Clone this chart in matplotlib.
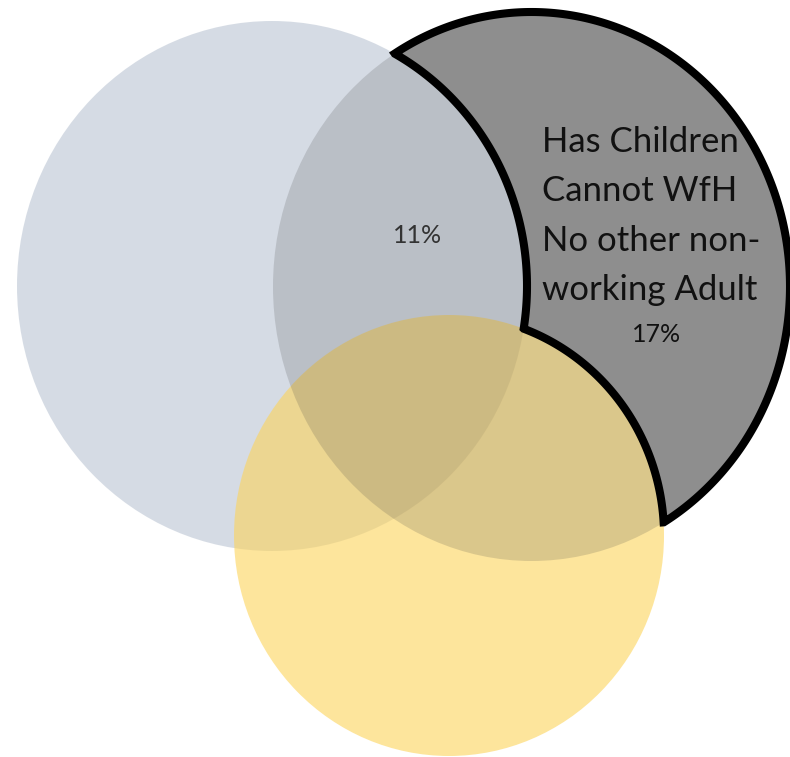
import numpy as np
import matplotlib
matplotlib.use("Agg")
from matplotlib import pyplot as plt
from matplotlib.patches import Ellipse, Polygon

plt.rcParams['font.family'] = ['Lato', 'DejaVu Sans']

# region labels and shares
group_lines = ["Has Children", "Cannot WfH", "No other non-", "working Adult"]
group_share = "17%"
overlap_share = "11%"

# ovals (pixel space): centre x, centre y, half width, half height
left_oval = (272, 286, 255, 265)
right_oval = (531.5, 286.5, 258.5, 274.5)
yellow_oval = (449, 535.5, 215, 220.5)


def boundary(e, n=4000):
    t = np.linspace(0, 2*np.pi, n, endpoint=False)
    return np.column_stack([e[0] + e[2]*np.cos(t), e[1] + e[3]*np.sin(t)])


def inside(e, p):
    return ((p[:, 0]-e[0])/e[2])**2 + ((p[:, 1]-e[1])/e[3])**2 < 1


def run(pts, mask):
    # the one contiguous stretch of the outline where mask holds
    i0 = np.where(mask & ~np.roll(mask, 1))[0][0]
    pts = np.roll(pts, -i0, axis=0)
    return pts[:mask.sum()]


def outline():
    pr = boundary(right_oval)
    a = run(pr, ~inside(left_oval, pr) & ~inside(yellow_oval, pr))
    py = boundary(yellow_oval)
    b = run(py, inside(right_oval, py) & ~inside(left_oval, py))
    pl = boundary(left_oval)
    c = run(pl, inside(right_oval, pl) & ~inside(yellow_oval, pl))
    chain = [a]
    rest = [b, c]
    while rest:
        end = chain[-1][-1]
        best = None
        for k, arc in enumerate(rest):
            for flip in (False, True):
                seg = arc[::-1] if flip else arc
                d = np.hypot(*(seg[0] - end))
                if best is None or d < best[0]:
                    best = (d, k, seg)
        chain.append(best[2])
        rest.pop(best[1])
    return np.vstack(chain)


fig = plt.figure(figsize=(7.9, 7.57), dpi=100)
ax = fig.add_axes([0, 0, 1, 1])
ax.set_xlim(0, 790)
ax.set_ylim(757, 0)
ax.axis('off')

for e, col, a, z in [(left_oval, '#ADB9CA', 0.5, 1),
                     (yellow_oval, '#FDD45A', 0.6, 2),
                     (right_oval, '#404040', 0.18, 3)]:
    ax.add_patch(Ellipse((e[0], e[1]), 2*e[2], 2*e[3], facecolor=col,
                         alpha=a, edgecolor='none', zorder=z))

ax.add_patch(Polygon(outline(), closed=True, facecolor='#8E8E8E',
                     edgecolor='black', linewidth=5.8, joinstyle='miter',
                     zorder=4))

for i, line in enumerate(group_lines):
    ax.text(542, 152 + 49.3*i, line, fontsize=25, color='#111111',
            ha='left', va='baseline', zorder=5)
ax.text(657, 342, group_share, fontsize=18, color='#111111',
        ha='center', va='baseline', zorder=5)
ax.text(418, 243, overlap_share, fontsize=18, color='#333333',
        ha='center', va='baseline', zorder=5)

plt.savefig("out.png", dpi=100)
